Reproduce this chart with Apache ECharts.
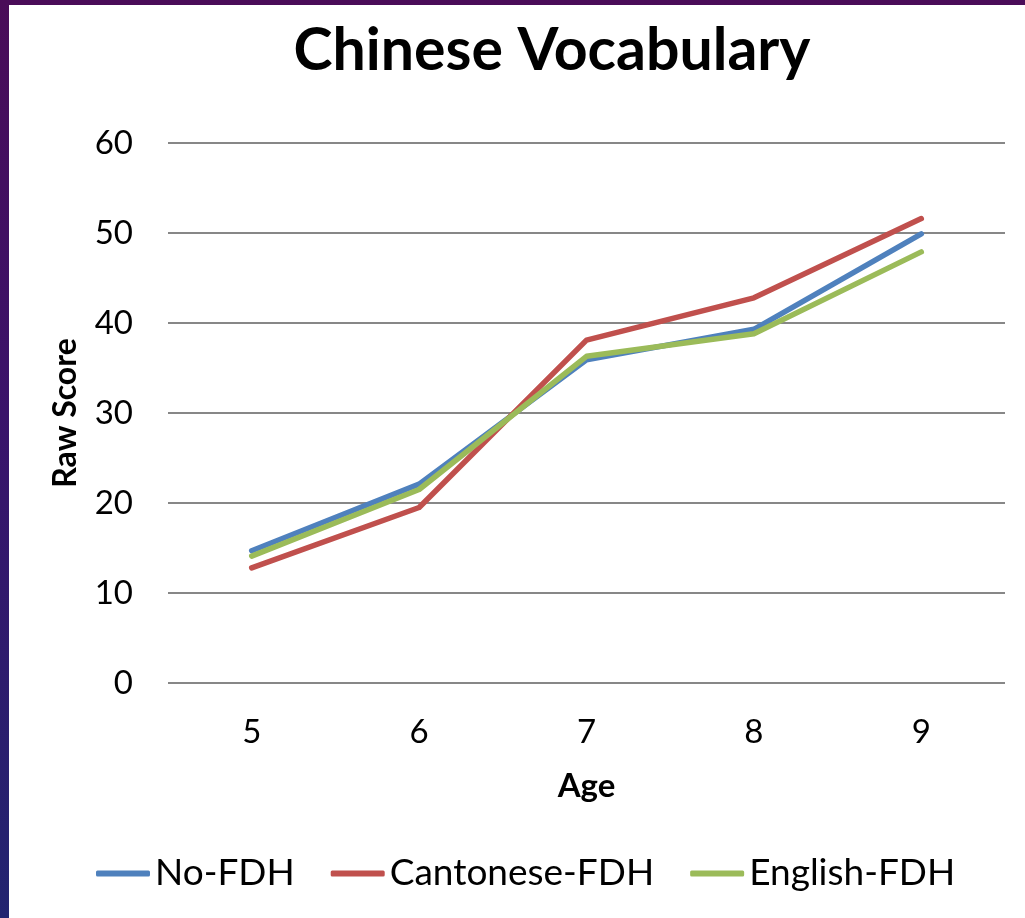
<!DOCTYPE html>
<html>
<head>
<meta charset="utf-8">
<script src="https://cdn.jsdelivr.net/npm/echarts@6/dist/echarts.min.js"></script>
<style>
  html, body { margin: 0; padding: 0; }
  body {
    width: 1025px; height: 918px; overflow: hidden; position: relative;
    background: linear-gradient(180deg, #4a0c58 0%, #3a136a 45%, #222470 100%);
  }
  #chart {
    position: absolute; left: 9px; top: 5px; width: 1016px; height: 913px;
    background: #ffffff;
  }
</style>
</head>
<body>
<div id="chart"></div>
<script>
// Chinese vocabulary raw scores by age for three home-language groups
const ages = ['5', '6', '7', '8', '9'];
const noFDH = [14.7, 22.1, 35.9, 39.3, 49.9];
const cantoneseFDH = [12.8, 19.5, 38.1, 42.8, 51.6];
const englishFDH = [14.1, 21.5, 36.3, 38.8, 47.9];
const seriesNames = ['No-FDH', 'Cantonese-FDH', 'English-FDH'];
const seriesColors = ['#4f81bd', '#c0504d', '#9bbb59'];

const FONT = 'Lato';
const chart = echarts.init(document.getElementById('chart'), null, { renderer: 'canvas' });

const values = [noFDH, cantoneseFDH, englishFDH];

chart.setOption({
  animation: false,
  backgroundColor: '#ffffff',
  title: {
    text: 'Chinese Vocabulary',
    left: 538, top: 11, textAlign: 'center',
    textStyle: { fontFamily: FONT, fontWeight: 'bold', fontSize: 59, color: '#000' }
  },
  legend: {
    left: 82, top: 845,
    itemWidth: 54, itemHeight: 6, itemGap: 36,
    icon: 'roundRect',
    textStyle: { fontFamily: FONT, fontSize: 37, color: '#000', padding: [0, 0, 0, 0] },
    data: seriesNames
  },
  grid: { left: 159, top: 138, width: 837, height: 540, containLabel: false },
  xAxis: {
    type: 'category', data: ages, boundaryGap: true,
    name: 'Age', nameLocation: 'middle', nameGap: 87,
    nameTextStyle: { fontFamily: FONT, fontWeight: 'bold', fontSize: 33, color: '#000' },
    axisLine: { show: false }, axisTick: { show: false },
    axisLabel: { fontFamily: FONT, fontSize: 33, color: '#000', margin: 33 }
  },
  yAxis: {
    type: 'value', min: 0, max: 60, interval: 10,
    name: 'Raw Score', nameLocation: 'middle', nameGap: 86,
    nameTextStyle: { fontFamily: FONT, fontWeight: 'bold', fontSize: 32, color: '#000' },
    axisLine: { show: false }, axisTick: { show: false },
    axisLabel: { fontFamily: FONT, fontSize: 33, color: '#000', margin: 35 },
    splitLine: { lineStyle: { color: '#878787', width: 2 } }
  },
  series: seriesNames.map((n, i) => ({
    name: n, type: 'line', data: values[i],
    symbol: 'none', smooth: false,
    lineStyle: { color: seriesColors[i], width: 5.5, cap: 'round', join: 'round' },
    itemStyle: { color: seriesColors[i] }
  }))
});
</script>
</body>
</html>
